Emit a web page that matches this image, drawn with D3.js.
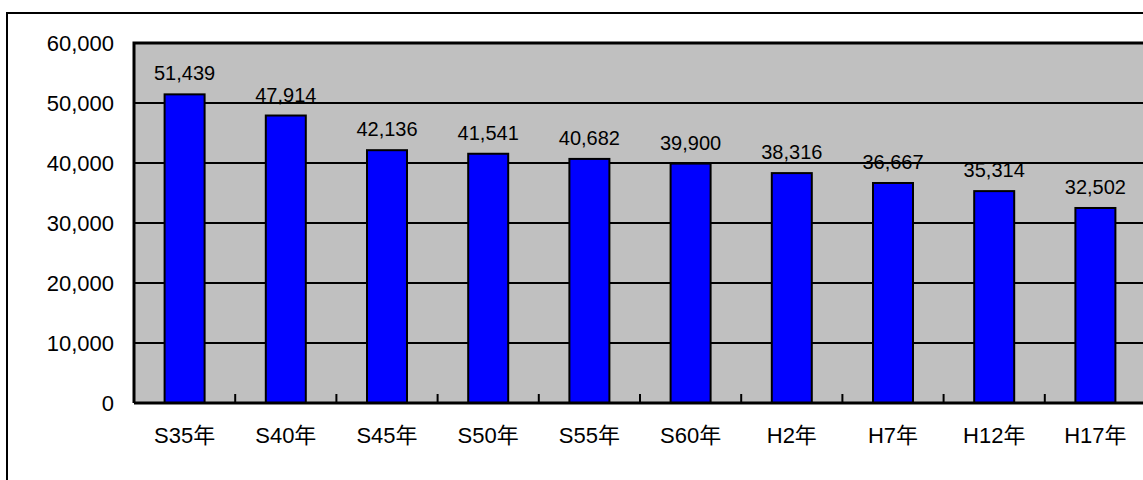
<!DOCTYPE html>
<html><head><meta charset="utf-8">
<script src="https://cdn.jsdelivr.net/npm/d3@7"></script>
<style>body{margin:0;background:#fff}svg{display:block}text{font-family:"Liberation Sans","Noto Sans CJK JP",sans-serif;fill:#000}</style>
</head><body>
<script>
const categories = ["S35年","S40年","S45年","S50年","S55年","S60年","H2年","H7年","H12年","H17年"];
const values = [51439,47914,42136,41541,40682,39900,38316,36667,35314,32502];
const yTicks = [0,10000,20000,30000,40000,50000,60000];

const W = 1143, H = 480;
const svg = d3.select("body").append("svg").attr("width", W).attr("height", H);
const pL = 134, pR = 1146, pT = 43, pB = 403;
const x = d3.scaleBand().domain(categories).range([pL, pR]).padding(0);
const y = d3.scaleLinear().domain([0, 60000]).range([pB, pT]);
const fmt = d3.format(",");
const barW = 40;

// outer border
svg.append("rect").attr("x", 7).attr("y", 13).attr("width", 1300).attr("height", 700)
  .attr("fill", "none").attr("stroke", "#000").attr("stroke-width", 2);

// plot background
svg.append("rect").attr("x", pL).attr("y", pT).attr("width", pR - pL).attr("height", pB - pT)
  .attr("fill", "#C0C0C0");

// gridlines
svg.append("g").selectAll("line").data(yTicks.filter(d => d > 0)).join("line")
  .attr("x1", pL).attr("x2", pR).attr("y1", d => y(d)).attr("y2", d => y(d))
  .attr("stroke", "#000").attr("stroke-width", 2);

// bars
svg.append("g").selectAll("rect").data(values).join("rect")
  .attr("x", (d, i) => x(categories[i]) + (x.bandwidth() - barW) / 2)
  .attr("y", d => y(d)).attr("width", barW).attr("height", d => pB - y(d))
  .attr("fill", "#0000FF").attr("stroke", "#000").attr("stroke-width", 2);

// value labels
svg.append("g").selectAll("text").data(values).join("text")
  .attr("x", (d, i) => x(categories[i]) + x.bandwidth() / 2)
  .attr("y", d => y(d) - 14).attr("text-anchor", "middle")
  .attr("font-size", 20).text(d => fmt(d));

// plot frame (left, top)
svg.append("path").attr("d", `M${pL},${pB}V${pT}H${pR}`)
  .attr("fill", "none").attr("stroke", "#000").attr("stroke-width", 3);

// x axis
const xAxis = d3.axisBottom(x).tickSize(0).tickPadding(0);
const gx = svg.append("g").attr("transform", `translate(0,${pB})`).call(xAxis);
gx.select(".domain").remove();
gx.selectAll("text").attr("y", 40).attr("dy", null).attr("font-size", 22).attr("font-family", null).attr("fill", "#000");
svg.append("line").attr("x1", pL).attr("x2", pR).attr("y1", pB).attr("y2", pB)
  .attr("stroke", "#000").attr("stroke-width", 3);
// category boundary ticks
svg.append("g").selectAll("line").data(categories.slice(1)).join("line")
  .attr("x1", d => x(d)).attr("x2", d => x(d)).attr("y1", pB).attr("y2", pB - 9)
  .attr("stroke", "#000").attr("stroke-width", 2);

// y axis
const yAxis = d3.axisLeft(y).tickValues(yTicks).tickSize(0).tickPadding(0).tickFormat(fmt);
const gy = svg.append("g").attr("transform", `translate(114,0)`).call(yAxis);
gy.select(".domain").remove();
gy.selectAll("text").attr("x", 0).attr("dy", "0.35em").attr("font-size", 22).attr("font-family", null).attr("fill", "#000");
</script>
</body></html>
